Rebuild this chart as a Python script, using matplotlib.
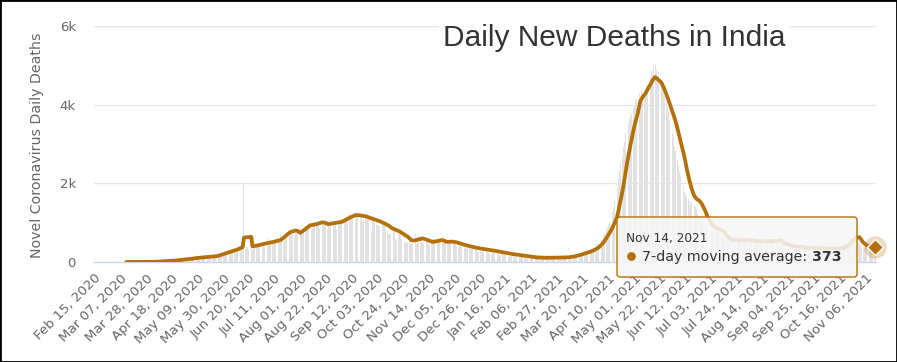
import matplotlib
matplotlib.use('Agg')
import matplotlib.pyplot as plt
import numpy as np
import pandas as pd
from matplotlib.patches import FancyBboxPatch, Rectangle

# ---------------- data ----------------
start_date = '2020-02-15'
end_date = '2021-11-14'

deaths_2020_02 = [0] * 15
deaths_2020_03 = [0] * 11 + [1, 1, 0, 0, 0, 1, 0, 1, 0, 3, 2, 2, 1, 1, 4, 4, 4, 3, 6, 3]
deaths_2020_04 = [6, 17, 12, 12, 13, 33, 25, 13, 40, 27, 40, 30, 35, 26, 38, 36, 23, 34, 28, 43,
                  35, 50, 51, 46, 56, 49, 62, 50, 73, 70]
deaths_2020_05 = [71, 84, 77, 128, 89, 100, 96, 104, 128, 111, 97, 121, 137, 122, 100, 120, 120, 157,
                  132, 134, 140, 148, 142, 137, 147, 154, 174, 175, 270, 184, 193]
deaths_2020_06 = [230, 217, 260, 273, 294, 287, 261, 266, 331, 279, 357, 396, 386, 325, 380, 2003,
                  336, 380, 375, 306, 445, 465, 312, 418, 384, 407, 380, 410, 384, 418]
deaths_2020_07 = [434, 442, 375, 442, 613, 467, 482, 487, 475, 519, 551, 500, 553, 506, 582, 687,
                  543, 681, 543, 587, 681, 1129, 740, 757, 705, 708, 654, 779, 768, 757, 779]
deaths_2020_08 = [853, 771, 803, 857, 904, 886, 933, 871, 1007, 871, 834, 942, 1007, 995, 1007, 944,
                  876, 1092, 977, 983, 945, 1059, 848, 912, 1021, 1057, 1021, 948, 1022, 971, 817]
deaths_2020_09 = [1045, 1045, 1096, 1066, 1089, 1065, 1133, 1115, 1172, 1209, 1201, 1114, 1136, 1054,
                  1283, 1132, 1174, 1247, 1130, 1133, 1053, 1085, 1129, 1141, 1089, 1124, 1039, 776,
                  1179, 1181]
deaths_2020_10 = [1095, 1069, 940, 903, 884, 986, 971, 964, 926, 918, 816, 706, 730, 680, 895, 837,
                  784, 578, 587, 717, 702, 650, 578, 480, 500, 488, 517, 490, 551, 470, 488]
deaths_2020_11 = [470, 496, 704, 449, 577, 670, 559, 577, 490, 512, 547, 580, 547, 516, 435, 449,
                  574, 585, 584, 562, 590, 511, 481, 517, 492, 518, 485, 496, 444, 482]
deaths_2020_12 = [540, 501, 526, 524, 482, 512, 396, 402, 512, 415, 442, 387, 391, 355, 355, 334,
                  347, 341, 340, 333, 279, 338, 333, 251, 262, 278, 251, 255, 299, 284, 250]
deaths_2021_01 = [256, 217, 214, 201, 264, 234, 222, 228, 228, 214, 161, 202, 219, 189, 175, 191,
                  145, 137, 163, 151, 163, 153, 131, 127, 137, 123, 131, 164, 169, 137, 127]
deaths_2021_02 = [94, 107, 151, 106, 110, 96, 84, 78, 92, 108, 95, 100, 87, 84, 78, 90, 101, 104,
                  100, 83, 101, 110, 98, 117, 108, 113, 113, 111]
deaths_2021_03 = [100, 106, 99, 108, 103, 113, 99, 79, 77, 131, 126, 112, 134, 90, 131, 118, 188,
                  160, 154, 187, 161, 212, 199, 275, 251, 291, 313, 312, 271, 353, 458]
deaths_2021_04 = [420, 480, 510, 570, 590, 690, 730, 830, 890, 970, 1040, 1140, 1240, 1410, 1540,
                  1720, 1880, 2120, 2280, 2520, 2680, 2920, 3040, 3270, 3380, 3520, 3640, 3710, 3790,
                  3920]
deaths_2021_05 = [3980, 4090, 4150, 4230, 4300, 4190, 4380, 4120, 4270, 4410, 4530, 4480, 4620, 4700,
                  4850, 4780, 4960, 5020, 4890, 4720, 4820, 4610, 4530, 4450, 4380, 4230, 4080, 3950,
                  3820, 3640, 3480]
deaths_2021_06 = [3310, 3180, 2930, 2820, 2590, 2440, 2290, 2180, 1990, 1920, 1780, 1730, 1640, 1590,
                  1560, 1480, 1520, 1430, 1460, 1390, 1340, 1230, 1160, 1120, 1040, 1010, 960, 920,
                  870, 850]
deaths_2021_07 = [830, 800, 760, 730, 720, 780, 850, 820, 760, 740, 700, 650, 600, 560, 540, 520, 560,
                  530, 500, 580, 540, 560, 590, 540, 520, 560, 580, 540, 520, 570, 560]
deaths_2021_08 = [540, 560, 590, 520, 530, 510, 530, 560, 540, 500, 520, 510, 530, 490, 520, 550, 530,
                  540, 510, 560, 540, 520, 550, 580, 560, 530, 570, 540, 500, 490, 470]
deaths_2021_09 = [450, 430, 410, 400, 390, 420, 380, 370, 390, 360, 380, 350, 370, 360, 340, 380, 350,
                  360, 340, 370, 350, 340, 360, 370, 330, 350, 360, 340, 350, 360]
deaths_2021_10 = [350, 340, 360, 330, 350, 340, 330, 350, 340, 320, 350, 340, 330, 360, 340, 350, 370,
                  380, 540, 410, 660, 540, 480, 450, 620, 560, 810, 440, 650, 560, 480]
deaths_2021_11 = [440, 420, 390, 380, 360, 400, 380, 370, 390, 350, 380, 360, 370, 340]

# 7-day moving average, read at points along the curve (days since Feb 15, 2020)
ma_day = [26, 35, 45, 50, 55, 60, 65, 70, 75, 80, 83, 90, 95, 100, 104, 107, 110, 113, 117, 121,
          122, 128, 129, 133, 137, 141, 146, 152, 155, 157, 160, 164, 166, 168, 172, 176, 181, 186,
          189, 191, 196, 202, 207, 210, 213, 216, 218, 222, 226, 231, 235, 240, 243, 246, 249, 252,
          256, 259, 262, 264, 268, 272, 276, 280, 284, 288, 292, 296, 299, 302, 308, 315, 322, 328,
          335, 342, 348, 354, 358, 362, 368, 375, 382, 387, 392, 397, 402, 405, 408, 412, 416, 419,
          422, 425, 427, 429, 431, 433, 435, 438, 441, 444, 446, 448, 450, 453, 456, 458, 460, 463,
          465, 468, 471, 474, 476, 479, 482, 484, 486, 488, 490, 492, 494, 496, 499, 501, 504, 507,
          511, 514, 518, 521, 527, 534, 540, 547, 553, 558, 561, 564, 568, 572, 578, 583, 590, 596,
          602, 608, 612, 616, 619, 622, 625, 628, 631, 634, 638]
ma_value = [2, 3, 5, 8, 15, 25, 35, 50, 70, 85, 100, 120, 135, 150, 185, 220, 250, 280, 320, 380,
            620, 640, 400, 420, 450, 480, 510, 560, 630, 690, 760, 800, 790, 740, 830, 930, 960, 1010,
            990, 960, 990, 1020, 1100, 1150, 1190, 1190, 1180, 1160, 1110, 1060, 1010, 930, 860, 820,
            780, 720, 640, 550, 550, 570, 600, 560, 510, 530, 560, 510, 520, 500, 470, 440, 390, 345,
            310, 280, 240, 200, 175, 150, 130, 115, 108, 110, 115, 118, 140, 180, 230, 260, 300, 370,
            500, 650, 800, 1000, 1150, 1450, 1750, 2100, 2500, 3000, 3450, 3800, 4100, 4200, 4280,
            4450, 4620, 4700, 4650, 4570, 4440, 4200, 3930, 3650, 3430, 3050, 2670, 2350, 2080, 1850,
            1680, 1600, 1560, 1490, 1300, 1150, 980, 880, 830, 780, 620, 560, 550, 560, 540, 520, 530,
            540, 550, 480, 430, 400, 380, 360, 355, 350, 345, 340, 350, 420, 520, 620, 630, 500, 420,
            400, 373]

y_ticks = [0, 2000, 4000, 6000]
y_tick_labels = ['0', '2k', '4k', '6k']
title_text = 'Daily New Deaths in India'
y_title = 'Novel Coronavirus Daily Deaths'
series_name = '7-day moving average'

# ---------------- build ----------------
dates = pd.date_range(start_date, end_date, freq='D')
categories = [d.strftime('%b %d, %Y') for d in dates]
daily_deaths = np.array(deaths_2020_02 + deaths_2020_03 + deaths_2020_04 + deaths_2020_05 +
                        deaths_2020_06 + deaths_2020_07 + deaths_2020_08 + deaths_2020_09 +
                        deaths_2020_10 + deaths_2020_11 + deaths_2020_12 + deaths_2021_01 +
                        deaths_2021_02 + deaths_2021_03 + deaths_2021_04 + deaths_2021_05 +
                        deaths_2021_06 + deaths_2021_07 + deaths_2021_08 + deaths_2021_09 +
                        deaths_2021_10 + deaths_2021_11)
assert len(daily_deaths) == len(dates), (len(daily_deaths), len(dates))
x = np.arange(len(dates))

LINE = '#b5700c'
W, H = 897, 362
fig = plt.figure(figsize=(W / 100, H / 100), dpi=100)
fig.patch.set_facecolor('white')

ax = fig.add_axes([94 / W, 1 - 262 / H, (876 - 94) / W, (262 - 26) / H])
ax.bar(x, daily_deaths, width=0.72, color='#e2e2e2', linewidth=0, zorder=2)
ax.plot(ma_day, ma_value, color=LINE, lw=2.7, solid_joinstyle='round', solid_capstyle='round', zorder=4)

ax.set_xlim(-0.5, len(x) - 0.5)
ax.set_ylim(0, 6000)
ax.set_yticks(y_ticks)
ax.set_yticklabels(y_tick_labels)
ax.grid(axis='y', color='#e6e6e6', lw=1, zorder=0)
ax.set_axisbelow(True)
for s in ['top', 'right', 'left']:
    ax.spines[s].set_visible(False)
ax.spines['bottom'].set_color('#ccd6eb')
ax.spines['bottom'].set_linewidth(1)
ax.tick_params(axis='y', length=0, pad=13, labelsize=9.5, labelcolor='#666666')

tick_idx = x[::21]
ax.set_xticks(tick_idx)
ax.set_xticklabels([categories[i] for i in tick_idx], rotation=45, ha='right',
                   rotation_mode='anchor', fontsize=9.6, color='#666666')
ax.tick_params(axis='x', length=0, pad=7)

# hovered point
ax.scatter([ma_day[-1]], [ma_value[-1]], s=260, color=LINE, alpha=0.25, linewidths=0, zorder=5,
           clip_on=False)
ax.plot([ma_day[-1]], [ma_value[-1]], marker='D', markersize=8, color=LINE, markeredgecolor='white',
        markeredgewidth=1, zorder=6, clip_on=False)

fig.text(37 / W, 1 - 145 / H, y_title, rotation=90, ha='center', va='center', fontsize=10.2,
         color='#666666')

fig.text(443 / W, 1 - 46 / H, title_text, family='Liberation Sans', fontsize=21.5, color='#333333',
         ha='left', va='baseline', zorder=10,
         bbox=dict(facecolor='white', edgecolor='none', boxstyle='square,pad=0.12'))

# tooltip overlay (pixel coordinates)
ov = fig.add_axes([0, 0, 1, 1], zorder=20)
ov.set_xlim(0, W)
ov.set_ylim(H, 0)
ov.axis('off')
ov.patch.set_visible(False)
ov.add_patch(FancyBboxPatch((618, 218), 240, 60, boxstyle='round,pad=0,rounding_size=3',
                            facecolor='black', alpha=0.06, edgecolor='none'))
ov.add_patch(FancyBboxPatch((617, 217), 240, 60, boxstyle='round,pad=0,rounding_size=3',
                            facecolor='#f9f9f9', alpha=0.85, edgecolor='none'))
ov.add_patch(FancyBboxPatch((617, 217), 240, 60, boxstyle='round,pad=0,rounding_size=3',
                            facecolor='none', edgecolor=LINE, lw=1))
ov.text(626, 242, categories[-1], fontsize=8.7, color='#333333', va='baseline', ha='left')
ov.scatter([631], [256], s=40, color=LINE, linewidths=0)
t1 = ov.text(642, 261, series_name + ': ', fontsize=10.2, color='#333333', va='baseline', ha='left')
fig.canvas.draw()
bb = t1.get_window_extent(renderer=fig.canvas.get_renderer())
x_end = bb.x1
ov.text(x_end, H - 261 if False else 261, f'{int(ma_value[-1])}', fontsize=10.2, color='#333333',
        fontweight='bold', va='baseline', ha='left')

fig.add_artist(Rectangle((0, 0), 1, 1, transform=fig.transFigure, fill=False, edgecolor='black',
                         lw=2, zorder=30))

fig.savefig('out.png', dpi=100, facecolor='white')
